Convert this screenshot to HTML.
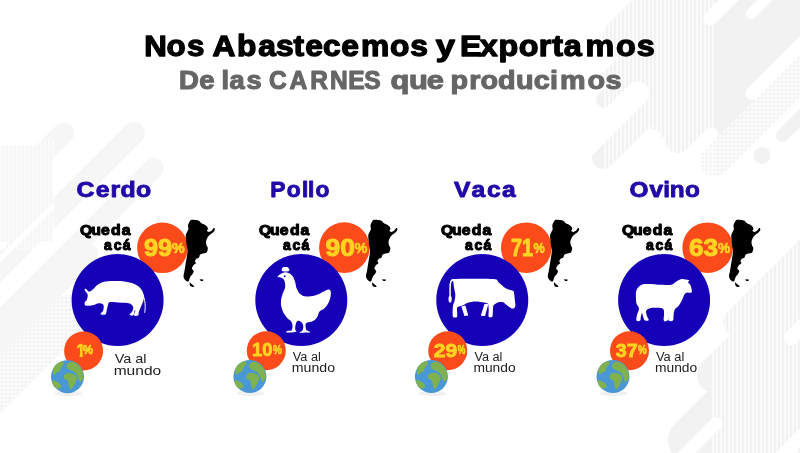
<!DOCTYPE html>
<html lang="es"><head><meta charset="utf-8"><title>Nos Abastecemos y Exportamos</title>
<style>
html,body{margin:0;padding:0;background:#fff;}
body{width:800px;height:453px;overflow:hidden;}
svg{display:block;}
text{font-family:"Liberation Sans",sans-serif;}
</style></head><body>
<svg width="800" height="453" viewBox="0 0 800 453">
<rect width="800" height="453" fill="#fff"/>
<defs><pattern id="hv" width="4" height="4" patternUnits="userSpaceOnUse"><rect width="4" height="4" fill="#f8f8f8"/><rect width="2" height="4" fill="#eeeeee"/></pattern><pattern id="hd" width="4" height="4" patternUnits="userSpaceOnUse"><rect width="4" height="4" fill="#fbfbfb"/><circle cx="2" cy="2" r="1.3" fill="#f0f0f0"/></pattern><pattern id="hw" width="4" height="4" patternUnits="userSpaceOnUse"><rect width="2" height="4" fill="#fff" fill-opacity="0.6"/></pattern></defs>
<g id="bg">
<line x1="623.5" y1="37.5" x2="883.5" y2="-222.5" stroke="#f2f2f2" stroke-width="41.0" stroke-linecap="round"/>
<line x1="613.0" y1="77.0" x2="873.0" y2="-183.0" stroke="#f2f2f2" stroke-width="20.0" stroke-linecap="round"/>
<line x1="604.0" y1="100.0" x2="864.0" y2="-160.0" stroke="#f2f2f2" stroke-width="16.0" stroke-linecap="round"/>
<line x1="640.0" y1="91.0" x2="900.0" y2="-169.0" stroke="#f2f2f2" stroke-width="23.0" stroke-linecap="round"/>
<line x1="603.0" y1="158.0" x2="863.0" y2="-102.0" stroke="#f2f2f2" stroke-width="22.0" stroke-linecap="round"/>
<line x1="660.0" y1="128.5" x2="920.0" y2="-131.5" stroke="#f2f2f2" stroke-width="19.0" stroke-linecap="round"/>
<line x1="678.0" y1="140.5" x2="938.0" y2="-119.5" stroke="#f2f2f2" stroke-width="25.5" stroke-linecap="round"/>
<line x1="700.0" y1="145.5" x2="960.0" y2="-114.5" stroke="#f2f2f2" stroke-width="14.5" stroke-linecap="round"/>
<line x1="714.0" y1="161.5" x2="974.0" y2="-98.5" stroke="url(#hd)" stroke-width="30.0" stroke-linecap="round"/>
<line x1="782.6" y1="135.4" x2="1042.6" y2="-124.6" stroke="#f2f2f2" stroke-width="13.0" stroke-linecap="round"/>
<circle cx="762" cy="155.5" r="8.5" fill="#f2f2f2"/>
<line x1="637.7" y1="93.3" x2="437.7" y2="293.3" stroke="#fff" stroke-width="23.5" stroke-linecap="round"/>
<line x1="653.7" y1="137.3" x2="453.7" y2="337.3" stroke="#fff" stroke-width="15.0" stroke-linecap="round"/>
<line x1="711.2" y1="134.3" x2="511.2" y2="334.3" stroke="#fff" stroke-width="13.5" stroke-linecap="round"/>
<line x1="752.3" y1="93.2" x2="952.3" y2="-106.8" stroke="#fff" stroke-width="13.5" stroke-linecap="round"/>
<line x1="710.4" y1="18.1" x2="910.4" y2="-181.9" stroke="#fff" stroke-width="14.0" stroke-linecap="round"/>
<line x1="751.4" y1="13.6" x2="951.4" y2="-186.4" stroke="#fff" stroke-width="11.0" stroke-linecap="round"/>
<rect x="603" y="0" width="113" height="175" fill="url(#hw)"/>
<rect x="0" y="146" width="53" height="96" fill="#f6f6f6"/>
<line x1="63.6" y1="133.0" x2="-20.0" y2="216.6" stroke="#f6f6f6" stroke-width="21.0" stroke-linecap="round"/>
<line x1="134.0" y1="133.0" x2="-20.0" y2="287.0" stroke="#f6f6f6" stroke-width="22.0" stroke-linecap="round"/>
<line x1="154.0" y1="168.0" x2="-20.0" y2="342.0" stroke="#f6f6f6" stroke-width="20.0" stroke-linecap="round"/>
<line x1="86.0" y1="254.0" x2="-20.0" y2="360.0" stroke="#f6f6f6" stroke-width="24.0" stroke-linecap="round"/>
<line x1="70.0" y1="315.0" x2="-30.0" y2="415.0" stroke="url(#hd)" stroke-width="40.0" stroke-linecap="round"/>
<line x1="20.0" y1="318.0" x2="-20.0" y2="358.0" stroke="#f6f6f6" stroke-width="18.0" stroke-linecap="round"/>
<line x1="53.0" y1="206.0" x2="-10.0" y2="269.0" stroke="#fff" stroke-width="5.0" stroke-linecap="round"/>
<rect x="0" y="140" width="54" height="110" fill="url(#hw)"/>
<line x1="736.0" y1="322.0" x2="996.0" y2="62.0" stroke="#f2f2f2" stroke-width="26.0" stroke-linecap="round"/>
<line x1="715.0" y1="375.0" x2="975.0" y2="115.0" stroke="#f2f2f2" stroke-width="36.0" stroke-linecap="round"/>
<line x1="690.0" y1="440.0" x2="950.0" y2="180.0" stroke="#f2f2f2" stroke-width="44.0" stroke-linecap="round"/>
<line x1="700.0" y1="480.0" x2="960.0" y2="220.0" stroke="#f2f2f2" stroke-width="56.0" stroke-linecap="round"/>
<line x1="740.0" y1="500.0" x2="1000.0" y2="240.0" stroke="#f2f2f2" stroke-width="70.0" stroke-linecap="round"/>
<line x1="791.3" y1="337.7" x2="991.3" y2="137.7" stroke="#fff" stroke-width="15.0" stroke-linecap="round"/>
<line x1="693.4" y1="395.6" x2="493.4" y2="595.6" stroke="#fff" stroke-width="13.0" stroke-linecap="round"/>
<line x1="715.9" y1="423.6" x2="515.9" y2="623.6" stroke="#fff" stroke-width="13.0" stroke-linecap="round"/>
<line x1="770.0" y1="468.0" x2="830.0" y2="408.0" stroke="#fff" stroke-width="13.0" stroke-linecap="round"/>
<rect x="712" y="225" width="88" height="228" fill="url(#hw)"/>
</g>
<text transform="scale(1.0416 1)" x="138.49 159.81 179.44" y="56.50" font-size="30" font-weight="700" fill="#000" stroke="#000" stroke-width="1.3" stroke-linejoin="round">Nos</text>
<text transform="scale(1.0589 1)" x="200.58 223.83 243.85 260.76 277.13 288.23 305.15 322.22 340.97 368.43 387.33" y="56.50" font-size="30" font-weight="700" fill="#000" stroke="#000" stroke-width="1.3" stroke-linejoin="round">Abastecemos</text>
<text transform="scale(1.1513 1)" x="378.47" y="56.50" font-size="30" font-weight="700" fill="#000" stroke="#000" stroke-width="1.3" stroke-linejoin="round">y</text>
<text transform="scale(1.0775 1)" x="426.92 445.36 462.60 481.42 499.99 512.53 523.24 543.43 571.67 590.89" y="56.50" font-size="30" font-weight="700" fill="#000" stroke="#000" stroke-width="1.3" stroke-linejoin="round">Exportamos</text>
<text transform="scale(1.0760 1)" x="166.32 185.08" y="88.80" font-size="25.6" font-weight="700" fill="#666" stroke="#666" stroke-width="1.1" stroke-linejoin="round">De</text>
<text transform="scale(1.0644 1)" x="208.07 215.67 231.70" y="88.80" font-size="25.6" font-weight="700" fill="#666" stroke="#666" stroke-width="1.1" stroke-linejoin="round">las</text>
<text transform="scale(0.9590 1)" x="280.59 301.89 323.57 344.11 363.22 379.74" y="88.80" font-size="25.6" font-weight="700" fill="#666" stroke="#666" stroke-width="1.1" stroke-linejoin="round">CARNES</text>
<text transform="scale(1.2033 1)" x="324.61 339.91 354.64" y="88.80" font-size="25.6" font-weight="700" fill="#666" stroke="#666" stroke-width="1.1" stroke-linejoin="round">que</text>
<text transform="scale(1.1230 1)" x="401.15 417.82 427.85 443.49 459.58 475.22 489.67 498.62 523.18 539.18" y="88.80" font-size="25.6" font-weight="700" fill="#666" stroke="#666" stroke-width="1.1" stroke-linejoin="round">producimos</text>
<g>
<text transform="scale(1.1104 1)" x="68.96 86.25 99.63 108.60 122.50" y="197.00" font-size="22.4" font-weight="700" fill="#1f0aa8" stroke="#1f0aa8" stroke-width="0.9" stroke-linejoin="round">Cerdo</text>
<text transform="scale(1.0936 1)" x="73.27 83.41 92.41 101.58 111.23" y="235.20" font-size="14.4" font-weight="700" fill="#000" stroke="#000" stroke-width="1.1" stroke-linejoin="round">Queda</text>
<text transform="scale(0.9724 1)" x="107.06 117.02 126.27" y="249.70" font-size="14.4" font-weight="700" fill="#000" stroke="#000" stroke-width="1.1" stroke-linejoin="round">acá</text>
<circle cx="162.45" cy="247.80" r="25.3" fill="#fb4b1b"/>
<circle cx="117.60" cy="300.00" r="46.0" fill="#1500b8"/>
<g transform="translate(0.00 0.00)">
<path fill="#fff" d="M84.68 303.36C84.72 302.81 84.74 302.09 85.03 301.60C85.33 301.12 86.03 301.12 86.44 300.43C86.85 299.75 87.28 298.44 87.49 297.51C87.71 296.57 87.90 295.65 87.73 294.82C87.55 293.98 86.95 293.29 86.44 292.47C85.93 291.66 84.94 290.52 84.68 289.90C84.43 289.28 84.64 288.87 84.92 288.73C85.19 288.59 85.74 288.63 86.32 289.08C86.91 289.53 87.73 291.07 88.43 291.42C89.13 291.77 89.95 291.44 90.53 291.19C91.12 290.93 91.45 290.27 91.94 289.90C92.43 289.53 92.52 289.80 93.46 288.96C94.40 288.12 95.90 286.02 97.56 284.87C99.22 283.71 100.87 282.68 103.41 282.06C105.95 281.43 109.26 281.22 112.78 281.12C116.29 281.02 120.97 281.02 124.48 281.47C127.99 281.92 131.15 282.64 133.85 283.81C136.54 284.98 139.02 286.74 140.63 288.49C142.25 290.25 143.03 292.65 143.56 294.35C144.09 296.04 143.97 297.23 143.79 298.68C143.62 300.12 143.05 301.51 142.51 303.01C141.96 304.51 141.14 306.17 140.52 307.69C139.89 309.21 139.13 310.89 138.76 312.14C138.39 313.39 138.92 314.56 138.29 315.18C137.67 315.81 135.72 315.98 135.02 315.89C134.31 315.79 134.04 315.38 134.08 314.60C134.12 313.82 135.13 312.00 135.25 311.20C135.37 310.40 135.05 309.17 134.78 309.80C134.51 310.42 134.31 314.05 133.61 314.95C132.91 315.85 131.19 315.34 130.57 315.18C129.94 315.03 129.61 314.60 129.87 314.01C130.12 313.43 131.52 312.73 132.09 311.67C132.66 310.62 133.34 308.84 133.26 307.69C133.18 306.54 132.40 305.51 131.62 304.77C130.84 304.02 130.16 303.58 128.58 303.24C127.00 302.91 124.38 302.93 122.14 302.78C119.90 302.62 117.22 302.39 115.12 302.31C113.01 302.23 110.67 301.92 109.50 302.31C108.33 302.70 108.54 303.40 108.09 304.65C107.64 305.90 107.22 308.20 106.81 309.80C106.40 311.40 106.47 313.43 105.64 314.25C104.80 315.07 102.61 314.83 101.77 314.71C100.93 314.60 100.43 314.13 100.60 313.54C100.78 312.96 102.30 312.30 102.83 311.20C103.35 310.11 103.80 308.18 103.76 306.99C103.72 305.80 103.43 304.67 102.59 304.06C101.75 303.46 100.06 303.24 98.73 303.36C97.40 303.48 96.10 304.38 94.63 304.77C93.17 305.16 91.37 305.57 89.95 305.70C88.53 305.84 86.95 305.72 86.09 305.58C85.23 305.45 85.03 305.25 84.80 304.88C84.57 304.51 84.64 303.91 84.68 303.36Z"/>
<path fill="none" stroke="#fff" stroke-width="1" stroke-linecap="round" d="M143.21 295.17C143.49 296.22 144.22 298.21 144.61 300.43C145.01 302.66 145.18 303.90 145.20 306.29C145.22 308.67 144.83 311.16 144.73 312.37"/>
</g>
<text xml:space="preserve" x="143.90" y="255.60" font-size="24.6" font-weight="700" fill="#ffd422" stroke="#ffd422" stroke-width="1.0" stroke-linejoin="round" textLength="28.22" lengthAdjust="spacingAndGlyphs">99</text>
<text xml:space="preserve" x="172.10" y="252.50" font-size="14" font-weight="700" fill="#ffd422" stroke="#ffd422" stroke-width="0.6" stroke-linejoin="round" textLength="12.63" lengthAdjust="spacingAndGlyphs">%</text>
<g transform="translate(0.00 0)" fill="#000"><path d="M190.15 220.86C190.55 220.35 190.62 219.84 191.48 219.71C192.34 219.58 194.77 219.80 195.89 219.97C197.02 220.15 198.19 220.39 198.98 220.86C199.78 221.32 200.33 222.47 201.19 223.06C202.05 223.66 203.80 224.23 204.72 224.83C205.65 225.43 206.91 226.38 207.37 227.04C207.84 227.70 207.88 228.65 207.81 229.25C207.75 229.84 206.73 230.61 206.93 231.01C207.13 231.41 208.41 231.96 209.14 231.89C209.87 231.83 211.15 231.10 211.79 230.57C212.42 230.04 212.95 228.69 213.38 228.36C213.80 228.03 214.43 228.03 214.61 228.36C214.80 228.69 214.91 229.91 214.61 230.57C214.32 231.23 213.43 232.11 212.67 232.78C211.92 233.44 210.38 234.26 209.58 234.98C208.79 235.71 207.90 236.64 207.37 237.63C206.84 238.63 206.18 240.48 206.05 241.61C205.92 242.73 206.23 244.21 206.49 245.14C206.75 246.07 207.68 246.93 207.81 247.79C207.95 248.65 207.70 250.08 207.37 250.88C207.04 251.67 206.67 252.56 205.61 253.09C204.55 253.62 201.30 253.75 200.31 254.42C199.32 255.08 199.58 256.84 198.98 257.51C198.39 258.17 196.93 258.23 196.34 258.83C195.74 259.43 195.08 260.82 195.01 261.48C194.94 262.14 196.16 262.65 195.89 263.25C195.63 263.84 193.84 264.66 193.25 265.45C192.65 266.25 191.85 267.68 191.92 268.54C191.99 269.40 193.62 270.33 193.69 271.19C193.75 272.05 192.89 273.42 192.36 274.28C191.83 275.14 190.62 276.14 190.15 276.93C189.69 277.73 189.50 278.92 189.27 279.58C189.05 280.24 188.92 281.06 188.65 281.35C188.39 281.64 187.94 281.66 187.51 281.52C187.07 281.39 186.27 280.95 185.74 280.46C185.21 279.97 184.30 278.98 183.97 278.26C183.64 277.53 183.47 276.67 183.53 275.61C183.60 274.55 184.15 272.65 184.42 271.19C184.68 269.74 185.03 267.48 185.30 265.89C185.56 264.30 185.92 262.19 186.18 260.60C186.45 259.01 186.87 256.89 187.06 255.30C187.26 253.71 187.57 251.52 187.51 250.00C187.44 248.48 186.82 246.53 186.62 245.14C186.42 243.75 186.31 242.18 186.18 240.72C186.05 239.27 185.61 236.75 185.74 235.43C185.87 234.10 186.67 232.82 187.06 231.89C187.46 230.97 188.26 230.17 188.39 229.25C188.52 228.32 187.88 226.64 187.95 225.71C188.01 224.79 188.50 223.79 188.83 223.06C189.16 222.34 189.76 221.36 190.15 220.86Z"/><path d="M189.71 282.23C189.98 281.88 190.60 283.20 191.48 284.00C192.36 284.79 193.95 285.62 194.13 286.20C194.30 286.79 193.16 287.00 192.36 286.91C191.57 286.82 190.68 286.70 190.15 285.76C189.62 284.83 189.45 282.58 189.71 282.23Z"/><path d="M199.60 279.14L203.40 279.58L202.96 280.91L200.75 281.08Z"/></g>
<circle cx="83.60" cy="350.90" r="19.5" fill="#fb4b1b"/>
<clipPath id="one"><polygon points="76.85,343.40 82.67,343.40 82.67,357.25 79.73,357.25 79.73,350.54 76.85,350.54"/></clipPath>
<text clip-path="url(#one)" x="76.48" y="356.90" font-size="18.6" font-weight="700" fill="#ffd422" stroke="#ffd422" stroke-width="0.7" stroke-linejoin="round" textLength="8.69" lengthAdjust="spacingAndGlyphs">1</text>
<text xml:space="preserve" x="82.70" y="354.40" font-size="12" font-weight="700" fill="#ffd422" stroke="#ffd422" stroke-width="0.7" stroke-linejoin="round" textLength="10.23" lengthAdjust="spacingAndGlyphs">%</text>
<ellipse cx="68.5" cy="393.7" rx="14" ry="2.6" fill="#f0f0f0"/>
<circle cx="67.5" cy="376.7" r="16.5" fill="#4a97d5"/>
<g transform="translate(51.1 360.3)" fill="#7fb24e"><path d="M13.45 14.51C14.57 13.15 15.87 12.92 18.22 12.92C20.57 12.92 21.79 13.28 23.52 14.51C25.25 15.75 25.51 16.37 25.64 18.22C25.76 20.07 24.91 20.48 24.05 22.46C23.18 24.44 23.04 25.21 21.93 26.69C20.82 28.18 20.27 29.31 19.28 28.81C18.29 28.32 18.31 26.55 17.69 24.58C17.07 22.60 17.62 21.70 16.63 20.34C15.64 18.98 14.19 20.11 13.45 18.75C12.71 17.39 12.34 15.87 13.45 14.51Z"/><path d="M16.63 3.39C17.99 2.28 19.05 1.55 21.40 1.80C23.75 2.05 24.59 2.72 26.69 4.45C28.80 6.18 29.12 6.74 30.40 9.22C31.69 11.69 32.08 12.45 32.20 15.04C32.33 17.64 31.85 18.98 30.93 20.34C30.02 21.70 29.27 21.73 28.28 20.87C27.30 20.00 27.56 18.49 26.69 16.63C25.83 14.78 25.81 14.28 24.58 12.92C23.34 11.56 23.00 11.67 21.40 10.81C19.79 9.94 19.05 10.20 17.69 9.22C16.33 8.23 15.82 7.93 15.57 6.57C15.32 5.21 15.27 4.50 16.63 3.39Z"/><path d="M1.80 10.28C2.05 8.17 2.56 7.36 3.92 5.51C5.28 3.65 5.77 3.32 7.63 2.33C9.48 1.34 10.75 0.78 11.86 1.27C12.98 1.77 12.89 2.97 12.39 4.45C11.90 5.93 10.61 6.14 9.75 7.63C8.88 9.11 9.68 9.69 8.69 10.81C7.70 11.92 6.87 11.53 5.51 12.39C4.15 13.26 3.73 15.01 2.86 14.51C2.00 14.02 1.55 12.38 1.80 10.28Z"/><path d="M1.27 20.34C1.89 19.60 2.72 20.13 4.45 20.87C6.18 21.61 7.45 22.16 8.69 23.52C9.92 24.88 10.12 25.58 9.75 26.69C9.38 27.81 8.46 28.16 7.10 28.28C5.74 28.41 5.16 28.21 3.92 27.22C2.68 26.24 2.42 25.65 1.80 24.05C1.18 22.44 0.65 21.08 1.27 20.34Z"/></g>
<text xml:space="preserve" x="114.70" y="363.00" font-size="12.8" font-weight="400" fill="#222" textLength="31.84" lengthAdjust="spacingAndGlyphs">Va al</text>
<text xml:space="preserve" x="113.70" y="375.40" font-size="12.8" font-weight="400" fill="#222" textLength="47.47" lengthAdjust="spacingAndGlyphs">mundo</text>
</g>
<g>
<text transform="scale(1.0165 1)" x="265.76 282.10 297.21 303.11 310.29" y="197.00" font-size="22.4" font-weight="700" fill="#1f0aa8" stroke="#1f0aa8" stroke-width="0.9" stroke-linejoin="round">Pollo</text>
<text transform="scale(1.0936 1)" x="236.77 246.90 255.90 265.07 274.72" y="235.20" font-size="14.4" font-weight="700" fill="#000" stroke="#000" stroke-width="1.1" stroke-linejoin="round">Queda</text>
<text transform="scale(0.9724 1)" x="290.94 300.89 310.15" y="249.70" font-size="14.4" font-weight="700" fill="#000" stroke="#000" stroke-width="1.1" stroke-linejoin="round">acá</text>
<circle cx="344.40" cy="247.60" r="25.3" fill="#fb4b1b"/>
<circle cx="301.30" cy="300.00" r="46.0" fill="#1500b8"/>
<g transform="translate(0.00 0.00)">
<path fill="#fff" d="M277.55 276.77C277.72 275.77 280.41 273.68 282.59 272.91C284.77 272.14 286.45 272.24 288.47 272.91C290.48 273.58 291.32 274.42 292.66 276.27C294.01 278.12 294.34 279.63 295.18 282.14C296.02 284.66 295.68 286.34 296.86 288.86C298.03 291.38 298.71 293.22 301.06 294.73C303.41 296.25 305.42 296.41 308.61 296.41C311.80 296.41 313.98 295.74 317.00 294.73C320.03 293.73 321.20 292.38 323.72 291.38C326.24 290.37 328.18 289.03 329.59 289.70C331.00 290.37 330.94 292.22 330.77 294.73C330.60 297.25 330.00 299.60 328.75 302.29C327.51 304.97 326.40 306.32 324.56 308.16C322.71 310.01 321.03 309.68 319.52 311.52C318.01 313.37 318.51 315.38 317.00 317.40C315.49 319.41 314.15 320.42 311.97 321.59C309.79 322.77 307.27 321.76 306.09 323.27C304.92 324.78 305.76 327.64 306.09 329.15C306.43 330.66 306.93 330.22 307.77 330.83C308.61 331.43 310.62 331.83 310.29 332.17C309.95 332.51 308.27 332.44 306.09 332.51C303.91 332.57 300.05 333.01 299.38 332.51C298.71 332.00 302.06 331.67 302.73 329.99C303.41 328.31 303.57 325.96 302.73 324.11C301.90 322.27 299.88 320.92 298.54 320.75C297.19 320.59 296.69 321.59 296.02 323.27C295.35 324.95 295.18 327.47 295.18 329.15C295.18 330.83 297.70 330.99 296.02 331.67C294.34 332.34 288.47 332.67 286.79 332.51C285.11 332.34 286.62 331.33 287.63 330.83C288.63 330.32 290.98 331.67 291.82 329.99C292.66 328.31 292.83 324.95 291.82 322.43C290.82 319.92 288.63 319.75 286.79 317.40C284.94 315.05 283.77 313.70 282.59 310.68C281.42 307.66 280.91 305.65 280.91 302.29C280.91 298.93 281.75 296.92 282.59 293.90C283.43 290.87 284.77 289.87 285.11 287.18C285.44 284.49 284.94 282.31 284.27 280.47C283.60 278.62 283.09 278.69 281.75 277.95C280.41 277.21 277.39 277.78 277.55 276.77Z"/>
<path fill="#fff" d="M281.75 269.55C281.75 268.52 282.11 268.04 283.09 267.37C284.08 266.70 284.24 267.04 285.44 267.04C286.65 267.04 286.60 266.70 287.63 267.37C288.66 268.04 289.17 268.52 289.31 269.55C289.44 270.58 289.79 270.79 288.13 271.23C286.47 271.68 284.79 271.68 283.09 271.23C281.39 270.79 281.75 270.58 281.75 269.55Z"/>
<circle cx="284.77" cy="276.27" r="0.9" fill="#1500b8"/>
</g>
<text xml:space="preserve" x="325.60" y="255.60" font-size="24.6" font-weight="700" fill="#ffd422" stroke="#ffd422" stroke-width="1.0" stroke-linejoin="round" textLength="29.43" lengthAdjust="spacingAndGlyphs">90</text>
<text xml:space="preserve" x="354.70" y="252.50" font-size="14" font-weight="700" fill="#ffd422" stroke="#ffd422" stroke-width="0.6" stroke-linejoin="round" textLength="12.60" lengthAdjust="spacingAndGlyphs">%</text>
<g transform="translate(182.50 0)" fill="#000"><path d="M190.15 220.86C190.55 220.35 190.62 219.84 191.48 219.71C192.34 219.58 194.77 219.80 195.89 219.97C197.02 220.15 198.19 220.39 198.98 220.86C199.78 221.32 200.33 222.47 201.19 223.06C202.05 223.66 203.80 224.23 204.72 224.83C205.65 225.43 206.91 226.38 207.37 227.04C207.84 227.70 207.88 228.65 207.81 229.25C207.75 229.84 206.73 230.61 206.93 231.01C207.13 231.41 208.41 231.96 209.14 231.89C209.87 231.83 211.15 231.10 211.79 230.57C212.42 230.04 212.95 228.69 213.38 228.36C213.80 228.03 214.43 228.03 214.61 228.36C214.80 228.69 214.91 229.91 214.61 230.57C214.32 231.23 213.43 232.11 212.67 232.78C211.92 233.44 210.38 234.26 209.58 234.98C208.79 235.71 207.90 236.64 207.37 237.63C206.84 238.63 206.18 240.48 206.05 241.61C205.92 242.73 206.23 244.21 206.49 245.14C206.75 246.07 207.68 246.93 207.81 247.79C207.95 248.65 207.70 250.08 207.37 250.88C207.04 251.67 206.67 252.56 205.61 253.09C204.55 253.62 201.30 253.75 200.31 254.42C199.32 255.08 199.58 256.84 198.98 257.51C198.39 258.17 196.93 258.23 196.34 258.83C195.74 259.43 195.08 260.82 195.01 261.48C194.94 262.14 196.16 262.65 195.89 263.25C195.63 263.84 193.84 264.66 193.25 265.45C192.65 266.25 191.85 267.68 191.92 268.54C191.99 269.40 193.62 270.33 193.69 271.19C193.75 272.05 192.89 273.42 192.36 274.28C191.83 275.14 190.62 276.14 190.15 276.93C189.69 277.73 189.50 278.92 189.27 279.58C189.05 280.24 188.92 281.06 188.65 281.35C188.39 281.64 187.94 281.66 187.51 281.52C187.07 281.39 186.27 280.95 185.74 280.46C185.21 279.97 184.30 278.98 183.97 278.26C183.64 277.53 183.47 276.67 183.53 275.61C183.60 274.55 184.15 272.65 184.42 271.19C184.68 269.74 185.03 267.48 185.30 265.89C185.56 264.30 185.92 262.19 186.18 260.60C186.45 259.01 186.87 256.89 187.06 255.30C187.26 253.71 187.57 251.52 187.51 250.00C187.44 248.48 186.82 246.53 186.62 245.14C186.42 243.75 186.31 242.18 186.18 240.72C186.05 239.27 185.61 236.75 185.74 235.43C185.87 234.10 186.67 232.82 187.06 231.89C187.46 230.97 188.26 230.17 188.39 229.25C188.52 228.32 187.88 226.64 187.95 225.71C188.01 224.79 188.50 223.79 188.83 223.06C189.16 222.34 189.76 221.36 190.15 220.86Z"/><path d="M189.71 282.23C189.98 281.88 190.60 283.20 191.48 284.00C192.36 284.79 193.95 285.62 194.13 286.20C194.30 286.79 193.16 287.00 192.36 286.91C191.57 286.82 190.68 286.70 190.15 285.76C189.62 284.83 189.45 282.58 189.71 282.23Z"/><path d="M199.60 279.14L203.40 279.58L202.96 280.91L200.75 281.08Z"/></g>
<circle cx="266.30" cy="350.65" r="19.5" fill="#fb4b1b"/>
<text xml:space="preserve" x="252.00" y="356.40" font-size="17.5" font-weight="700" fill="#ffd422" stroke="#ffd422" stroke-width="0.8" stroke-linejoin="round" textLength="20.50" lengthAdjust="spacingAndGlyphs">10</text>
<text xml:space="preserve" x="272.90" y="354.20" font-size="12" font-weight="700" fill="#ffd422" stroke="#ffd422" stroke-width="0.7" stroke-linejoin="round" textLength="8.84" lengthAdjust="spacingAndGlyphs">%</text>
<ellipse cx="250.9" cy="393.5" rx="14" ry="2.6" fill="#f0f0f0"/>
<circle cx="249.9" cy="376.5" r="16.5" fill="#4a97d5"/>
<g transform="translate(233.5 360.1)" fill="#7fb24e"><path d="M13.45 14.51C14.57 13.15 15.87 12.92 18.22 12.92C20.57 12.92 21.79 13.28 23.52 14.51C25.25 15.75 25.51 16.37 25.64 18.22C25.76 20.07 24.91 20.48 24.05 22.46C23.18 24.44 23.04 25.21 21.93 26.69C20.82 28.18 20.27 29.31 19.28 28.81C18.29 28.32 18.31 26.55 17.69 24.58C17.07 22.60 17.62 21.70 16.63 20.34C15.64 18.98 14.19 20.11 13.45 18.75C12.71 17.39 12.34 15.87 13.45 14.51Z"/><path d="M16.63 3.39C17.99 2.28 19.05 1.55 21.40 1.80C23.75 2.05 24.59 2.72 26.69 4.45C28.80 6.18 29.12 6.74 30.40 9.22C31.69 11.69 32.08 12.45 32.20 15.04C32.33 17.64 31.85 18.98 30.93 20.34C30.02 21.70 29.27 21.73 28.28 20.87C27.30 20.00 27.56 18.49 26.69 16.63C25.83 14.78 25.81 14.28 24.58 12.92C23.34 11.56 23.00 11.67 21.40 10.81C19.79 9.94 19.05 10.20 17.69 9.22C16.33 8.23 15.82 7.93 15.57 6.57C15.32 5.21 15.27 4.50 16.63 3.39Z"/><path d="M1.80 10.28C2.05 8.17 2.56 7.36 3.92 5.51C5.28 3.65 5.77 3.32 7.63 2.33C9.48 1.34 10.75 0.78 11.86 1.27C12.98 1.77 12.89 2.97 12.39 4.45C11.90 5.93 10.61 6.14 9.75 7.63C8.88 9.11 9.68 9.69 8.69 10.81C7.70 11.92 6.87 11.53 5.51 12.39C4.15 13.26 3.73 15.01 2.86 14.51C2.00 14.02 1.55 12.38 1.80 10.28Z"/><path d="M1.27 20.34C1.89 19.60 2.72 20.13 4.45 20.87C6.18 21.61 7.45 22.16 8.69 23.52C9.92 24.88 10.12 25.58 9.75 26.69C9.38 27.81 8.46 28.16 7.10 28.28C5.74 28.41 5.16 28.21 3.92 27.22C2.68 26.24 2.42 25.65 1.80 24.05C1.18 22.44 0.65 21.08 1.27 20.34Z"/></g>
<text xml:space="preserve" x="292.80" y="360.80" font-size="12" font-weight="400" fill="#222" textLength="28.02" lengthAdjust="spacingAndGlyphs">Va al</text>
<text xml:space="preserve" x="291.80" y="371.50" font-size="12" font-weight="400" fill="#222" textLength="43.27" lengthAdjust="spacingAndGlyphs">mundo</text>
</g>
<g>
<text transform="scale(1.0983 1)" x="413.30 429.30 443.45 457.03" y="197.00" font-size="22.4" font-weight="700" fill="#1f0aa8" stroke="#1f0aa8" stroke-width="0.9" stroke-linejoin="round">Vaca</text>
<text transform="scale(1.0936 1)" x="403.18 413.32 422.32 431.49 441.14" y="235.20" font-size="14.4" font-weight="700" fill="#000" stroke="#000" stroke-width="1.1" stroke-linejoin="round">Queda</text>
<text transform="scale(0.9724 1)" x="478.10 488.06 497.31" y="249.70" font-size="14.4" font-weight="700" fill="#000" stroke="#000" stroke-width="1.1" stroke-linejoin="round">acá</text>
<circle cx="526.30" cy="247.70" r="25.3" fill="#fb4b1b"/>
<circle cx="482.25" cy="300.00" r="46.0" fill="#1500b8"/>
<g transform="translate(0.00 0.00)">
<path fill="#fff" d="M454.10 279.10C458.77 278.75 488.38 278.75 493.54 279.10C498.71 279.46 496.98 281.07 498.40 282.14C499.81 283.20 504.26 287.28 505.68 288.20C507.10 289.12 509.61 289.67 510.53 290.02C511.45 290.38 513.14 290.81 513.57 291.24C513.99 291.66 514.03 292.74 514.17 293.67C514.32 294.59 514.64 297.78 514.78 299.13C514.92 300.47 515.46 304.13 515.39 305.19C515.32 306.26 514.67 307.87 514.17 308.23C513.68 308.58 511.99 308.58 511.14 308.23C510.29 307.87 507.81 305.90 506.89 305.19C505.97 304.49 504.24 302.51 503.25 302.16C502.26 301.81 499.53 301.81 498.40 302.16C497.27 302.51 494.18 304.27 493.54 305.19C492.91 306.11 493.08 308.70 492.94 310.05C492.80 311.39 492.83 315.94 492.33 316.72C491.83 317.50 489.11 317.50 488.69 316.72C488.26 315.94 488.76 311.54 488.69 310.05C488.62 308.56 488.51 304.83 488.08 303.98C487.66 303.13 486.54 303.05 485.05 302.77C483.56 302.48 477.32 301.55 475.34 301.55C473.36 301.55 469.62 302.27 468.06 302.77C466.50 303.26 463.26 305.23 461.99 305.80C460.72 306.37 457.70 306.35 457.14 307.62C456.57 308.90 457.63 315.66 457.14 316.72C456.64 317.79 453.38 317.93 452.89 316.72C452.39 315.52 452.68 308.32 452.89 306.41C453.10 304.50 454.43 301.76 454.71 300.34C454.99 298.92 455.39 295.69 455.32 294.27C455.24 292.86 454.31 289.62 454.10 288.20C453.89 286.79 453.50 283.20 453.50 282.14C453.50 281.07 449.43 279.46 454.10 279.10Z"/>
<path fill="none" stroke="#fff" stroke-width="1.5" stroke-linecap="round" d="M454.47 279.71C453.83 279.90 452.16 279.59 451.31 280.68C450.46 281.77 450.46 283.18 450.22 285.17C449.98 287.16 450.12 288.45 450.10 290.63C450.07 292.82 450.10 295.00 450.10 296.09"/>
<ellipse cx="450.10" cy="299.13" rx="1.6" ry="3.4" fill="#fff"/>
<path fill="#fff" d="M461.38 306.41L465.39 305.44L468.30 315.51L464.42 316.12Z"/>
<path fill="#fff" d="M484.44 303.98L488.33 303.98L485.05 316.12L480.80 315.87Z"/>
</g>
<text xml:space="preserve" x="510.90" y="255.60" font-size="24.6" font-weight="700" fill="#ffd422" stroke="#ffd422" stroke-width="1.0" stroke-linejoin="round" textLength="22.00" lengthAdjust="spacingAndGlyphs">71</text>
<text xml:space="preserve" x="533.50" y="252.50" font-size="14" font-weight="700" fill="#ffd422" stroke="#ffd422" stroke-width="0.6" stroke-linejoin="round" textLength="11.23" lengthAdjust="spacingAndGlyphs">%</text>
<g transform="translate(364.30 0)" fill="#000"><path d="M190.15 220.86C190.55 220.35 190.62 219.84 191.48 219.71C192.34 219.58 194.77 219.80 195.89 219.97C197.02 220.15 198.19 220.39 198.98 220.86C199.78 221.32 200.33 222.47 201.19 223.06C202.05 223.66 203.80 224.23 204.72 224.83C205.65 225.43 206.91 226.38 207.37 227.04C207.84 227.70 207.88 228.65 207.81 229.25C207.75 229.84 206.73 230.61 206.93 231.01C207.13 231.41 208.41 231.96 209.14 231.89C209.87 231.83 211.15 231.10 211.79 230.57C212.42 230.04 212.95 228.69 213.38 228.36C213.80 228.03 214.43 228.03 214.61 228.36C214.80 228.69 214.91 229.91 214.61 230.57C214.32 231.23 213.43 232.11 212.67 232.78C211.92 233.44 210.38 234.26 209.58 234.98C208.79 235.71 207.90 236.64 207.37 237.63C206.84 238.63 206.18 240.48 206.05 241.61C205.92 242.73 206.23 244.21 206.49 245.14C206.75 246.07 207.68 246.93 207.81 247.79C207.95 248.65 207.70 250.08 207.37 250.88C207.04 251.67 206.67 252.56 205.61 253.09C204.55 253.62 201.30 253.75 200.31 254.42C199.32 255.08 199.58 256.84 198.98 257.51C198.39 258.17 196.93 258.23 196.34 258.83C195.74 259.43 195.08 260.82 195.01 261.48C194.94 262.14 196.16 262.65 195.89 263.25C195.63 263.84 193.84 264.66 193.25 265.45C192.65 266.25 191.85 267.68 191.92 268.54C191.99 269.40 193.62 270.33 193.69 271.19C193.75 272.05 192.89 273.42 192.36 274.28C191.83 275.14 190.62 276.14 190.15 276.93C189.69 277.73 189.50 278.92 189.27 279.58C189.05 280.24 188.92 281.06 188.65 281.35C188.39 281.64 187.94 281.66 187.51 281.52C187.07 281.39 186.27 280.95 185.74 280.46C185.21 279.97 184.30 278.98 183.97 278.26C183.64 277.53 183.47 276.67 183.53 275.61C183.60 274.55 184.15 272.65 184.42 271.19C184.68 269.74 185.03 267.48 185.30 265.89C185.56 264.30 185.92 262.19 186.18 260.60C186.45 259.01 186.87 256.89 187.06 255.30C187.26 253.71 187.57 251.52 187.51 250.00C187.44 248.48 186.82 246.53 186.62 245.14C186.42 243.75 186.31 242.18 186.18 240.72C186.05 239.27 185.61 236.75 185.74 235.43C185.87 234.10 186.67 232.82 187.06 231.89C187.46 230.97 188.26 230.17 188.39 229.25C188.52 228.32 187.88 226.64 187.95 225.71C188.01 224.79 188.50 223.79 188.83 223.06C189.16 222.34 189.76 221.36 190.15 220.86Z"/><path d="M189.71 282.23C189.98 281.88 190.60 283.20 191.48 284.00C192.36 284.79 193.95 285.62 194.13 286.20C194.30 286.79 193.16 287.00 192.36 286.91C191.57 286.82 190.68 286.70 190.15 285.76C189.62 284.83 189.45 282.58 189.71 282.23Z"/><path d="M199.60 279.14L203.40 279.58L202.96 280.91L200.75 281.08Z"/></g>
<circle cx="447.75" cy="350.65" r="19.5" fill="#fb4b1b"/>
<text xml:space="preserve" x="433.80" y="356.50" font-size="17.5" font-weight="700" fill="#ffd422" stroke="#ffd422" stroke-width="0.8" stroke-linejoin="round" textLength="23.42" lengthAdjust="spacingAndGlyphs">29</text>
<text xml:space="preserve" x="457.70" y="354.20" font-size="12" font-weight="700" fill="#ffd422" stroke="#ffd422" stroke-width="0.7" stroke-linejoin="round" textLength="7.61" lengthAdjust="spacingAndGlyphs">%</text>
<ellipse cx="432.4" cy="393.5" rx="14" ry="2.6" fill="#f0f0f0"/>
<circle cx="431.4" cy="376.5" r="16.5" fill="#4a97d5"/>
<g transform="translate(415.1 360.1)" fill="#7fb24e"><path d="M13.45 14.51C14.57 13.15 15.87 12.92 18.22 12.92C20.57 12.92 21.79 13.28 23.52 14.51C25.25 15.75 25.51 16.37 25.64 18.22C25.76 20.07 24.91 20.48 24.05 22.46C23.18 24.44 23.04 25.21 21.93 26.69C20.82 28.18 20.27 29.31 19.28 28.81C18.29 28.32 18.31 26.55 17.69 24.58C17.07 22.60 17.62 21.70 16.63 20.34C15.64 18.98 14.19 20.11 13.45 18.75C12.71 17.39 12.34 15.87 13.45 14.51Z"/><path d="M16.63 3.39C17.99 2.28 19.05 1.55 21.40 1.80C23.75 2.05 24.59 2.72 26.69 4.45C28.80 6.18 29.12 6.74 30.40 9.22C31.69 11.69 32.08 12.45 32.20 15.04C32.33 17.64 31.85 18.98 30.93 20.34C30.02 21.70 29.27 21.73 28.28 20.87C27.30 20.00 27.56 18.49 26.69 16.63C25.83 14.78 25.81 14.28 24.58 12.92C23.34 11.56 23.00 11.67 21.40 10.81C19.79 9.94 19.05 10.20 17.69 9.22C16.33 8.23 15.82 7.93 15.57 6.57C15.32 5.21 15.27 4.50 16.63 3.39Z"/><path d="M1.80 10.28C2.05 8.17 2.56 7.36 3.92 5.51C5.28 3.65 5.77 3.32 7.63 2.33C9.48 1.34 10.75 0.78 11.86 1.27C12.98 1.77 12.89 2.97 12.39 4.45C11.90 5.93 10.61 6.14 9.75 7.63C8.88 9.11 9.68 9.69 8.69 10.81C7.70 11.92 6.87 11.53 5.51 12.39C4.15 13.26 3.73 15.01 2.86 14.51C2.00 14.02 1.55 12.38 1.80 10.28Z"/><path d="M1.27 20.34C1.89 19.60 2.72 20.13 4.45 20.87C6.18 21.61 7.45 22.16 8.69 23.52C9.92 24.88 10.12 25.58 9.75 26.69C9.38 27.81 8.46 28.16 7.10 28.28C5.74 28.41 5.16 28.21 3.92 27.22C2.68 26.24 2.42 25.65 1.80 24.05C1.18 22.44 0.65 21.08 1.27 20.34Z"/></g>
<text xml:space="preserve" x="474.40" y="360.80" font-size="12" font-weight="400" fill="#222" textLength="28.02" lengthAdjust="spacingAndGlyphs">Va al</text>
<text xml:space="preserve" x="473.40" y="371.50" font-size="12" font-weight="400" fill="#222" textLength="42.27" lengthAdjust="spacingAndGlyphs">mundo</text>
</g>
<g>
<text transform="scale(1.0881 1)" x="578.65 596.98 609.62 615.62 629.59" y="197.00" font-size="22.4" font-weight="700" fill="#1f0aa8" stroke="#1f0aa8" stroke-width="0.9" stroke-linejoin="round">Ovino</text>
<text transform="scale(1.0936 1)" x="568.69 578.83 587.82 596.99 606.64" y="235.20" font-size="14.4" font-weight="700" fill="#000" stroke="#000" stroke-width="1.1" stroke-linejoin="round">Queda</text>
<text transform="scale(0.9724 1)" x="664.24 674.19 683.45" y="249.70" font-size="14.4" font-weight="700" fill="#000" stroke="#000" stroke-width="1.1" stroke-linejoin="round">acá</text>
<circle cx="707.65" cy="247.70" r="25.3" fill="#fb4b1b"/>
<circle cx="664.10" cy="300.00" r="46.0" fill="#1500b8"/>
<g transform="translate(0.00 0.00)">
<path fill="#fff" d="M635.92 296.27C635.92 293.60 635.56 292.39 636.53 290.20C637.50 288.02 638.71 286.61 640.78 285.35C642.84 284.09 642.72 284.01 646.84 283.89C650.97 283.77 656.55 284.57 661.41 284.74C666.26 284.91 668.20 285.35 671.12 284.74C674.03 284.14 674.03 282.80 675.97 281.71C677.91 280.62 678.88 279.72 680.83 279.28C682.77 278.84 683.98 279.28 685.68 279.52C687.38 279.77 688.83 279.94 689.32 280.50C689.81 281.05 687.86 281.34 688.11 282.32C688.35 283.29 689.81 283.77 690.53 285.35C691.26 286.93 691.63 288.75 691.75 290.20C691.87 291.66 692.11 292.15 691.14 292.63C690.17 293.12 688.23 292.27 686.89 292.63C685.56 293.00 685.44 293.00 684.47 294.45C683.50 295.91 683.25 297.61 682.04 299.91C680.83 302.22 679.85 304.04 678.40 305.98C676.94 307.92 675.73 307.68 674.76 309.62C673.79 311.56 673.91 313.50 673.54 315.69C673.18 317.87 673.91 319.57 672.94 320.54C671.97 321.51 669.59 321.27 668.69 320.54C667.79 319.82 668.69 316.90 668.45 316.90C668.20 316.90 668.40 319.82 667.48 320.54C666.55 321.27 664.51 322.00 663.83 320.54C663.16 319.09 664.32 315.69 664.08 313.26C663.83 310.83 664.37 309.50 662.62 308.41C660.87 307.32 658.01 307.80 655.34 307.80C652.67 307.80 651.09 307.80 649.27 308.41C647.45 309.01 646.72 309.38 646.24 310.83C645.75 312.29 646.36 313.87 646.84 315.69C647.33 317.51 649.03 318.97 648.67 319.94C648.30 320.91 646.12 321.15 645.02 320.54C643.93 319.94 643.81 318.36 643.20 316.90C642.60 315.45 642.48 313.26 641.99 313.26C641.50 313.26 641.14 315.45 640.78 316.90C640.41 318.36 641.02 319.82 640.17 320.54C639.32 321.27 637.14 321.76 636.53 320.54C635.92 319.33 636.65 316.90 637.14 314.48C637.62 312.05 639.08 310.59 638.96 308.41C638.83 306.22 637.14 305.98 636.53 303.55C635.92 301.13 635.92 298.94 635.92 296.27Z"/>
</g>
<text xml:space="preserve" x="689.10" y="255.60" font-size="24.6" font-weight="700" fill="#ffd422" stroke="#ffd422" stroke-width="1.0" stroke-linejoin="round" textLength="29.01" lengthAdjust="spacingAndGlyphs">63</text>
<text xml:space="preserve" x="717.90" y="252.50" font-size="14" font-weight="700" fill="#ffd422" stroke="#ffd422" stroke-width="0.6" stroke-linejoin="round" textLength="12.24" lengthAdjust="spacingAndGlyphs">%</text>
<g transform="translate(545.50 0)" fill="#000"><path d="M190.15 220.86C190.55 220.35 190.62 219.84 191.48 219.71C192.34 219.58 194.77 219.80 195.89 219.97C197.02 220.15 198.19 220.39 198.98 220.86C199.78 221.32 200.33 222.47 201.19 223.06C202.05 223.66 203.80 224.23 204.72 224.83C205.65 225.43 206.91 226.38 207.37 227.04C207.84 227.70 207.88 228.65 207.81 229.25C207.75 229.84 206.73 230.61 206.93 231.01C207.13 231.41 208.41 231.96 209.14 231.89C209.87 231.83 211.15 231.10 211.79 230.57C212.42 230.04 212.95 228.69 213.38 228.36C213.80 228.03 214.43 228.03 214.61 228.36C214.80 228.69 214.91 229.91 214.61 230.57C214.32 231.23 213.43 232.11 212.67 232.78C211.92 233.44 210.38 234.26 209.58 234.98C208.79 235.71 207.90 236.64 207.37 237.63C206.84 238.63 206.18 240.48 206.05 241.61C205.92 242.73 206.23 244.21 206.49 245.14C206.75 246.07 207.68 246.93 207.81 247.79C207.95 248.65 207.70 250.08 207.37 250.88C207.04 251.67 206.67 252.56 205.61 253.09C204.55 253.62 201.30 253.75 200.31 254.42C199.32 255.08 199.58 256.84 198.98 257.51C198.39 258.17 196.93 258.23 196.34 258.83C195.74 259.43 195.08 260.82 195.01 261.48C194.94 262.14 196.16 262.65 195.89 263.25C195.63 263.84 193.84 264.66 193.25 265.45C192.65 266.25 191.85 267.68 191.92 268.54C191.99 269.40 193.62 270.33 193.69 271.19C193.75 272.05 192.89 273.42 192.36 274.28C191.83 275.14 190.62 276.14 190.15 276.93C189.69 277.73 189.50 278.92 189.27 279.58C189.05 280.24 188.92 281.06 188.65 281.35C188.39 281.64 187.94 281.66 187.51 281.52C187.07 281.39 186.27 280.95 185.74 280.46C185.21 279.97 184.30 278.98 183.97 278.26C183.64 277.53 183.47 276.67 183.53 275.61C183.60 274.55 184.15 272.65 184.42 271.19C184.68 269.74 185.03 267.48 185.30 265.89C185.56 264.30 185.92 262.19 186.18 260.60C186.45 259.01 186.87 256.89 187.06 255.30C187.26 253.71 187.57 251.52 187.51 250.00C187.44 248.48 186.82 246.53 186.62 245.14C186.42 243.75 186.31 242.18 186.18 240.72C186.05 239.27 185.61 236.75 185.74 235.43C185.87 234.10 186.67 232.82 187.06 231.89C187.46 230.97 188.26 230.17 188.39 229.25C188.52 228.32 187.88 226.64 187.95 225.71C188.01 224.79 188.50 223.79 188.83 223.06C189.16 222.34 189.76 221.36 190.15 220.86Z"/><path d="M189.71 282.23C189.98 281.88 190.60 283.20 191.48 284.00C192.36 284.79 193.95 285.62 194.13 286.20C194.30 286.79 193.16 287.00 192.36 286.91C191.57 286.82 190.68 286.70 190.15 285.76C189.62 284.83 189.45 282.58 189.71 282.23Z"/><path d="M199.60 279.14L203.40 279.58L202.96 280.91L200.75 281.08Z"/></g>
<circle cx="629.50" cy="350.65" r="19.5" fill="#fb4b1b"/>
<text xml:space="preserve" x="615.75" y="356.50" font-size="17.5" font-weight="700" fill="#ffd422" stroke="#ffd422" stroke-width="0.8" stroke-linejoin="round" textLength="21.80" lengthAdjust="spacingAndGlyphs">37</text>
<text xml:space="preserve" x="638.00" y="354.20" font-size="12" font-weight="700" fill="#ffd422" stroke="#ffd422" stroke-width="0.7" stroke-linejoin="round" textLength="8.64" lengthAdjust="spacingAndGlyphs">%</text>
<ellipse cx="614.0" cy="393.5" rx="14" ry="2.6" fill="#f0f0f0"/>
<circle cx="613.0" cy="376.5" r="16.5" fill="#4a97d5"/>
<g transform="translate(596.6 360.1)" fill="#7fb24e"><path d="M13.45 14.51C14.57 13.15 15.87 12.92 18.22 12.92C20.57 12.92 21.79 13.28 23.52 14.51C25.25 15.75 25.51 16.37 25.64 18.22C25.76 20.07 24.91 20.48 24.05 22.46C23.18 24.44 23.04 25.21 21.93 26.69C20.82 28.18 20.27 29.31 19.28 28.81C18.29 28.32 18.31 26.55 17.69 24.58C17.07 22.60 17.62 21.70 16.63 20.34C15.64 18.98 14.19 20.11 13.45 18.75C12.71 17.39 12.34 15.87 13.45 14.51Z"/><path d="M16.63 3.39C17.99 2.28 19.05 1.55 21.40 1.80C23.75 2.05 24.59 2.72 26.69 4.45C28.80 6.18 29.12 6.74 30.40 9.22C31.69 11.69 32.08 12.45 32.20 15.04C32.33 17.64 31.85 18.98 30.93 20.34C30.02 21.70 29.27 21.73 28.28 20.87C27.30 20.00 27.56 18.49 26.69 16.63C25.83 14.78 25.81 14.28 24.58 12.92C23.34 11.56 23.00 11.67 21.40 10.81C19.79 9.94 19.05 10.20 17.69 9.22C16.33 8.23 15.82 7.93 15.57 6.57C15.32 5.21 15.27 4.50 16.63 3.39Z"/><path d="M1.80 10.28C2.05 8.17 2.56 7.36 3.92 5.51C5.28 3.65 5.77 3.32 7.63 2.33C9.48 1.34 10.75 0.78 11.86 1.27C12.98 1.77 12.89 2.97 12.39 4.45C11.90 5.93 10.61 6.14 9.75 7.63C8.88 9.11 9.68 9.69 8.69 10.81C7.70 11.92 6.87 11.53 5.51 12.39C4.15 13.26 3.73 15.01 2.86 14.51C2.00 14.02 1.55 12.38 1.80 10.28Z"/><path d="M1.27 20.34C1.89 19.60 2.72 20.13 4.45 20.87C6.18 21.61 7.45 22.16 8.69 23.52C9.92 24.88 10.12 25.58 9.75 26.69C9.38 27.81 8.46 28.16 7.10 28.28C5.74 28.41 5.16 28.21 3.92 27.22C2.68 26.24 2.42 25.65 1.80 24.05C1.18 22.44 0.65 21.08 1.27 20.34Z"/></g>
<text xml:space="preserve" x="655.95" y="360.80" font-size="12" font-weight="400" fill="#222" textLength="28.42" lengthAdjust="spacingAndGlyphs">Va al</text>
<text xml:space="preserve" x="654.95" y="371.50" font-size="12" font-weight="400" fill="#222" textLength="42.27" lengthAdjust="spacingAndGlyphs">mundo</text>
</g>
</svg>
</body></html>
